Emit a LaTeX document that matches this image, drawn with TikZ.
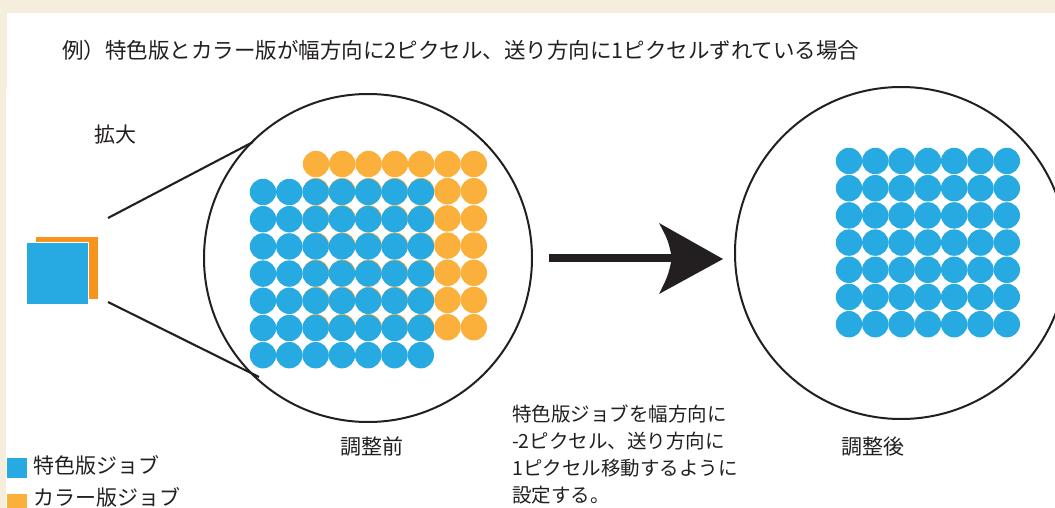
\documentclass[tikz,border=0pt]{standalone}
\usepackage{fontspec}
\setmainfont{Noto Sans CJK JP}
\definecolor{cream}{HTML}{F5EEDC}
\definecolor{dotblue}{HTML}{27A9E1}
\definecolor{dotorange}{HTML}{FBB03B}
\definecolor{sqorange}{HTML}{F7941D}
\definecolor{ink}{HTML}{231F20}
\begin{document}
\begin{tikzpicture}[x=1pt,y=-1pt,
  txt/.style={inner sep=0pt,text=ink,font=\fontsize{21}{27}\selectfont},
  bodytxt/.style={inner sep=0pt,text=ink,align=left,font=\fontsize{19.5}{27}\selectfont},
  lens/.style={circle,draw=ink,line width=2pt,minimum size=328pt,inner sep=0pt},
  guide/.style={draw=ink,line width=2.1pt},
  bdot/.style={fill=dotblue},
  odot/.style={fill=dotorange}]
\useasboundingbox (0,0) rectangle (1055,508);
\clip (0,0) rectangle (1055,508);
% background
\fill[cream] (0,0) rectangle (1055,508);
\fill[white] (7,13) rectangle (1055,88);
\fill[white] (6,88) rectangle (1055,508);
% title
\node[txt,anchor=west,font=\fontsize{21.5}{27}\selectfont] (title) at (62,50) {例）特色版とカラー版が幅方向に2ピクセル、送り方向に1ピクセルずれている場合};
\node[txt,anchor=west] (kakudai) at (94,135) {拡大};
% small squares
\node[fill=sqorange,minimum size=62pt,inner sep=0pt,anchor=north west] (sqo) at (36,237) {};
\node[fill=dotblue,draw=white,line width=0.6pt,minimum size=62pt,inner sep=0pt,anchor=north west] (sqb) at (26,242) {};
% lenses
\node[lens] (lensL) at (368,258) {};
\node[lens,minimum size=332pt] (lensR) at (901,253) {};
% guide lines
\coordinate (gu0) at (108,218);
\coordinate (gu1) at (253,142);
\coordinate (gl0) at (108,302);
\coordinate (gl1) at (259,377);
\draw[guide] (gu0) -- (gu1);
\draw[guide] (gl0) -- (gl1);
% dots before adjustment: orange shifted +2 cols, -1 row
\foreach \c in {0,...,6}{
  \foreach \r in {0,...,6}{
    \fill[odot] (316+26.3*\c,164+27.2*\r) circle (13.2);
  }
}
\foreach \c in {0,...,6}{
  \foreach \r in {0,...,6}{
    \fill[bdot] (263+26.3*\c,192+27.2*\r) circle (13.2);
  }
}
% dots after adjustment
\foreach \c in {0,...,6}{
  \foreach \r in {0,...,6}{
    \fill[bdot] (849+26.3*\c,161+27.2*\r) circle (13.2);
  }
}
% arrow
\coordinate (ar0) at (549,258);
\coordinate (ar1) at (674,258);
\draw[ink,line width=8pt] (ar0) -- (ar1);
\fill[ink] (723,259) -- (659,223) .. controls (668,240) .. (672,258) .. controls (668,276) .. (659,294) -- cycle;
% labels
\node[txt] (before) at (372,447) {調整前};
\node[txt] (after) at (873,447) {調整後};
\node[bodytxt,anchor=west] (body) at (512,454) {特色版ジョブを幅方向に\\-2ピクセル、送り方向に\\1ピクセル移動するように\\設定する。};
% legend
\node[fill=dotblue,minimum size=20pt,inner sep=0pt,anchor=north west] (lgb) at (7,458) {};
\node[fill=dotorange,minimum size=20pt,inner sep=0pt,anchor=north west] (lgo) at (7,494) {};
\node[txt,anchor=west] (lgbt) at (33,465) {特色版ジョブ};
\node[txt,anchor=west] (lgot) at (33,497) {カラー版ジョブ};
\end{tikzpicture}
\end{document}
